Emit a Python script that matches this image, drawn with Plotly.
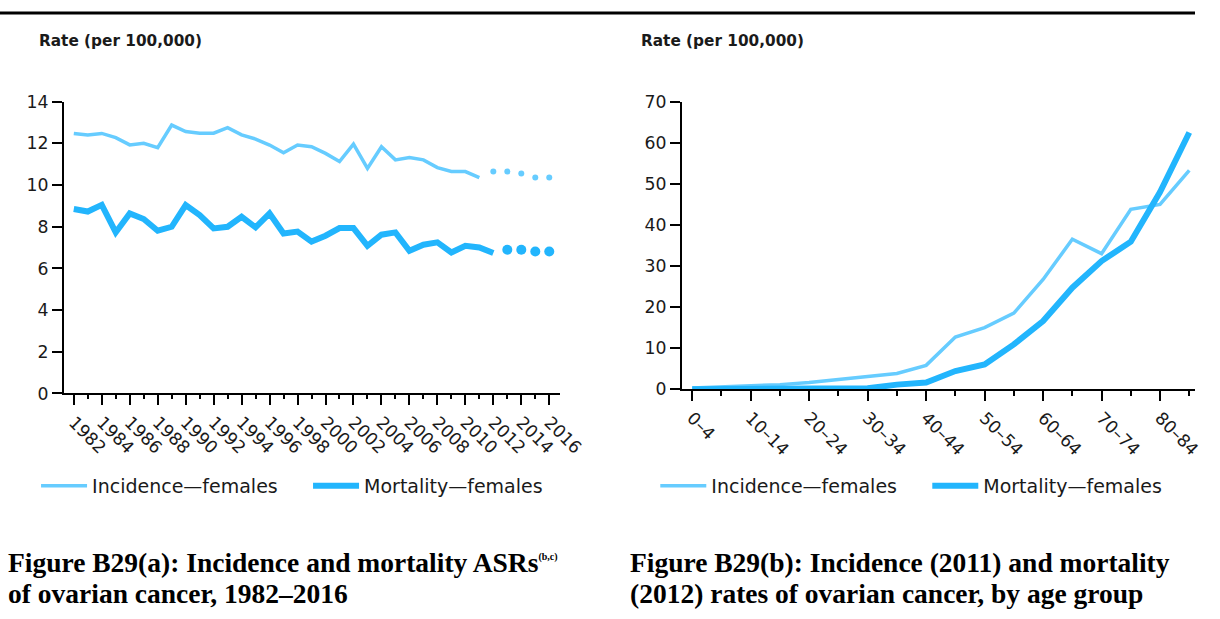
import plotly.graph_objects as go

# ---------------- data ----------------
years_inc = list(range(1982, 2012))
inc_rate = [12.48, 12.40, 12.48, 12.28, 11.93, 12.01, 11.80, 12.88, 12.57, 12.49,
            12.49, 12.76, 12.41, 12.21, 11.92, 11.55, 11.92, 11.84, 11.52, 11.13,
            11.97, 10.80, 11.84, 11.21, 11.32, 11.21, 10.84, 10.65, 10.65, 10.36]
years_inc_proj = [2012, 2013, 2014, 2015, 2016]
inc_proj = [10.65, 10.65, 10.56, 10.36, 10.36]

years_mort = list(range(1982, 2013))
mort_rate = [8.85, 8.73, 9.05, 7.73, 8.64, 8.37, 7.81, 8.00, 9.04, 8.56,
             7.92, 8.00, 8.48, 7.97, 8.64, 7.68, 7.77, 7.29, 7.57, 7.94,
             7.94, 7.09, 7.62, 7.73, 6.85, 7.14, 7.25, 6.77, 7.09, 7.01, 6.74]
years_mort_proj = [2013, 2014, 2015, 2016]
mort_proj = [6.90, 6.90, 6.81, 6.81]

year_ticks = list(range(1982, 2017, 2))
year_minor = list(range(1983, 2017, 2))

age_groups = ["0–4", "5–9", "10–14", "15–19", "20–24", "25–29", "30–34", "35–39",
              "40–44", "45–49", "50–54", "55–59", "60–64", "65–69", "70–74",
              "75–79", "80–84", "85+"]
age_inc = [0.3, 0.5, 0.7, 1.1, 1.6, 2.4, 3.0, 3.8, 5.8, 12.7, 15.0, 18.5,
           26.7, 36.5, 33.0, 43.8, 45.0, 53.3]
age_mort = [0.0, 0.0, 0.0, 0.1, 0.1, 0.1, 0.2, 1.1, 1.6, 4.4, 6.0, 10.9,
            16.6, 24.7, 31.2, 35.9, 48.0, 62.5]

# ---------------- style ----------------
W, H = 1220, 619
C_INC = "#66CCFF"
C_MORT = "#22B5FD"
SANS = "DejaVu Sans"
SERIF = "Liberation Serif"
TXT = "#1a1a1a"

def px_x(p):
    return min(p / W, 1.0)

def px_y(p):
    return 1 - p / H

age_idx = list(range(len(age_groups)))

fig = go.Figure()

# left chart
fig.add_trace(go.Scatter(x=years_inc, y=inc_rate, mode="lines", name="Incidence—females",
                         line=dict(color=C_INC, width=3.5), xaxis="x", yaxis="y",
                         legend="legend", hoverinfo="skip"))
fig.add_trace(go.Scatter(x=years_inc_proj, y=inc_proj, mode="markers", showlegend=False,
                         marker=dict(color=C_INC, size=6), xaxis="x", yaxis="y",
                         hoverinfo="skip"))
fig.add_trace(go.Scatter(x=years_mort, y=mort_rate, mode="lines", name="Mortality—females",
                         line=dict(color=C_MORT, width=6), xaxis="x", yaxis="y",
                         legend="legend", hoverinfo="skip"))
fig.add_trace(go.Scatter(x=years_mort_proj, y=mort_proj, mode="markers", showlegend=False,
                         marker=dict(color=C_MORT, size=10), xaxis="x", yaxis="y",
                         hoverinfo="skip"))

# right chart
fig.add_trace(go.Scatter(x=age_idx, y=age_inc, mode="lines", name="Incidence—females",
                         line=dict(color=C_INC, width=3.5), xaxis="x2", yaxis="y2",
                         legend="legend2", hoverinfo="skip"))
fig.add_trace(go.Scatter(x=age_idx, y=age_mort, mode="lines", name="Mortality—females",
                         line=dict(color=C_MORT, width=6), xaxis="x2", yaxis="y2",
                         legend="legend2", hoverinfo="skip"))

axis_common = dict(showline=True, linecolor="black", linewidth=2, showgrid=False,
                   zeroline=False, ticks="outside", tickcolor="black", tickwidth=1.5,
                   ticklen=10, tickfont=dict(family=SANS, size=17.3, color=TXT))

legend_common = dict(orientation="h", xanchor="left", yanchor="middle",
                     font=dict(family=SANS, size=19, color=TXT),
                     bgcolor="rgba(0,0,0,0)", traceorder="normal",
                     itemwidth=46, entrywidth=211, entrywidthmode="pixels")

fig.update_layout(
    width=W, height=H, autosize=False,
    margin=dict(l=0, r=0, t=0, b=0),
    paper_bgcolor="white", plot_bgcolor="white",
    xaxis=dict(domain=[px_x(65.2), px_x(571.6)], range=[1981.29, 2016.76],
               tickvals=year_ticks, ticktext=[str(y) for y in year_ticks],
               tickangle=45, anchor="y",
               minor=dict(tickvals=year_minor, ticks="outside", ticklen=4,
                          tickcolor="black", tickwidth=1.5),
               **axis_common),
    yaxis=dict(domain=[px_y(396.3), px_y(94.8)], range=[0, 14], dtick=2, anchor="x",
               **axis_common),
    xaxis2=dict(domain=[px_x(696.2), px_x(1220)], range=[-0.352, 17.196],
                tickvals=age_idx[::2], ticktext=age_groups[::2],
                tickangle=45, anchor="y2",
                minor=dict(tickvals=age_idx[1::2], ticks="outside", ticklen=5,
                           tickcolor="black", tickwidth=1.5),
                **axis_common),
    yaxis2=dict(domain=[px_y(391.8), px_y(94.8)], range=[0, 70], dtick=10, anchor="x2",
                **axis_common),
    legend=dict(x=px_x(36.8), y=px_y(491.7), **legend_common),
    legend2=dict(x=px_x(669), y=px_y(491.7), **legend_common),
    showlegend=True,
)

# top rule
fig.add_shape(type="line", xref="paper", yref="paper", x0=0, x1=1, y0=px_y(3), y1=px_y(3),
              line=dict(color="black", width=3))

# axis titles
for xpos in (37.7, 652.4):
    fig.add_annotation(text="<b>Rate (per 100,000)</b>", xref="paper", yref="paper",
                       x=px_x(xpos), y=px_y(31.7), xanchor="left", yanchor="middle",
                       showarrow=False, font=dict(family=SANS, size=15.3, color=TXT))

# captions
captions = [
    (6, 571.3, "<b>Figure B29(a): Incidence and mortality ASRs<sup><span style='font-size:10px'>(b,c)</span></sup></b>"),
    (6, 603.4, "<b>of ovarian cancer, 1982–2016</b>"),
    (641, 571.3, "<b>Figure B29(b): Incidence (2011) and mortality</b>"),
    (641, 603.4, "<b>(2012) rates of ovarian cancer, by age group</b>"),
]
for xpos, ypos, txt in captions:
    fig.add_annotation(text=txt, xref="paper", yref="paper", x=px_x(xpos), y=px_y(ypos),
                       xanchor="left", yanchor="middle", showarrow=False,
                       font=dict(family=SERIF, size=27.5, color="black"))

fig.write_html("out.html",
               config={"responsive": False, "displayModeBar": False},
               post_script="document.body.style.margin='0';document.body.style.overflow='hidden';")
